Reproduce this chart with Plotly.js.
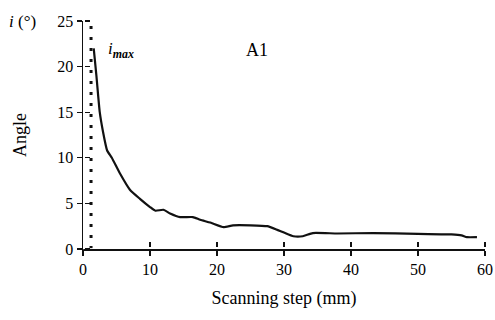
<!DOCTYPE html>
<html><head><meta charset="utf-8">
<script src="https://cdn.plot.ly/plotly-3.0.1.min.js"></script>
<style>html,body{margin:0;padding:0;background:#fff}</style>
</head><body><div id="chart" style="width:495px;height:320px"></div>
<script>
const stepMm = [1.6, 2.0, 2.5, 3.0, 3.6, 4.3, 5.5, 7.0, 8.5, 10.0, 10.8, 12.0, 13.0, 14.5, 16.4, 17.5, 19.0, 21.0, 22.4, 25.0, 27.5, 29.0, 30.0, 31.4, 32.8, 34.3, 38.0, 43.3, 50.0, 55.0, 56.5, 57.3, 58.8];
const angleDeg = [22.0, 19.0, 15.0, 12.8, 10.8, 10.0, 8.3, 6.5, 5.5, 4.6, 4.2, 4.3, 3.9, 3.5, 3.5, 3.2, 2.9, 2.4, 2.6, 2.6, 2.5, 2.1, 1.8, 1.4, 1.4, 1.75, 1.7, 1.75, 1.65, 1.6, 1.5, 1.3, 1.3];
const imaxX = [1.2, 1.2];
const imaxY = [0, 25];
const xTicks = [0, 10, 20, 30, 40, 50, 60];
const yTicks = [0, 5, 10, 15, 20, 25];

const font = {family: 'Liberation Serif, Times New Roman, serif', color: '#000'};
const traces = [
  {x: imaxX, y: imaxY, mode: 'lines', line: {color: '#111', width: 3, dash: '3px,8px'}},
  {x: stepMm, y: angleDeg, mode: 'lines', line: {color: '#111', width: 2.2, shape: 'spline', smoothing: 0.5}},
  {x: stepMm, y: angleDeg, xaxis: 'x3', yaxis: 'y3', mode: 'lines', line: {color: 'rgba(0,0,0,0)', width: 0}},
  {x: stepMm, y: angleDeg, xaxis: 'x4', yaxis: 'y4', mode: 'lines', line: {color: 'rgba(0,0,0,0)', width: 0}}
];
const axBase = {showgrid: false, zeroline: false, showline: true, linecolor: '#111', linewidth: 1.5,
  ticks: 'outside', ticklen: 5, tickwidth: 1.3, tickcolor: '#111'};
const layout = {
  width: 495, height: 320, showlegend: false,
  margin: {l: 83, r: 10, t: 21, b: 71},
  xaxis: Object.assign({}, axBase, {range: [0, 60], tickvals: xTicks, ticktext: xTicks.map(String),
    tickfont: Object.assign({size: 16}, font),
    title: {text: 'Scanning step (mm)', font: Object.assign({size: 18}, font), standoff: 14}}),
  yaxis: Object.assign({}, axBase, {range: [0, 25], tickvals: yTicks, ticktext: yTicks.map(String),
    tickfont: Object.assign({size: 16}, font),
    title: {text: 'Angle', font: Object.assign({size: 18}, font), standoff: 26}}),
  xaxis3: {domain: [0, 1], anchor: 'y3', side: 'top', range: [0, 60], ticks: 'outside', tickcolor: '#111', ticklen: 5, tickwidth: 1.3, tickvals: xTicks, showticklabels: false, gridcolor: 'rgba(0,0,0,0)'},
  yaxis3: {domain: [0, 0.004], anchor: 'x3', range: [0, 1], visible: false},
  xaxis4: {domain: [0, 0.003], anchor: 'y4', range: [0, 1], visible: false},
  yaxis4: {domain: [0, 1], anchor: 'x4', side: 'right', range: [0, 25], ticks: 'outside', tickcolor: '#111', ticklen: 5, tickwidth: 1.3, tickvals: yTicks, showticklabels: false, showline: false, gridcolor: 'rgba(0,0,0,0)'},
  annotations: [
    {xref: 'paper', yref: 'paper', x: -0.19, y: 1.0, xanchor: 'left', yanchor: 'middle', showarrow: false,
      text: '<i>i</i> (°)', font: Object.assign({size: 17}, font)},
    {xref: 'x', yref: 'y', x: 3.5, y: 21.8, xanchor: 'left', yanchor: 'middle', showarrow: false,
      text: '<i>i</i><sub><i><b>max</b></i></sub>', font: Object.assign({size: 17}, font)},
    {xref: 'x', yref: 'y', x: 26, y: 21.8, xanchor: 'center', yanchor: 'middle', showarrow: false,
      text: 'A1', font: Object.assign({size: 18}, font)}
  ]
};
Plotly.newPlot('chart', traces, layout, {displayModeBar: false, staticPlot: true});
</script></body></html>
